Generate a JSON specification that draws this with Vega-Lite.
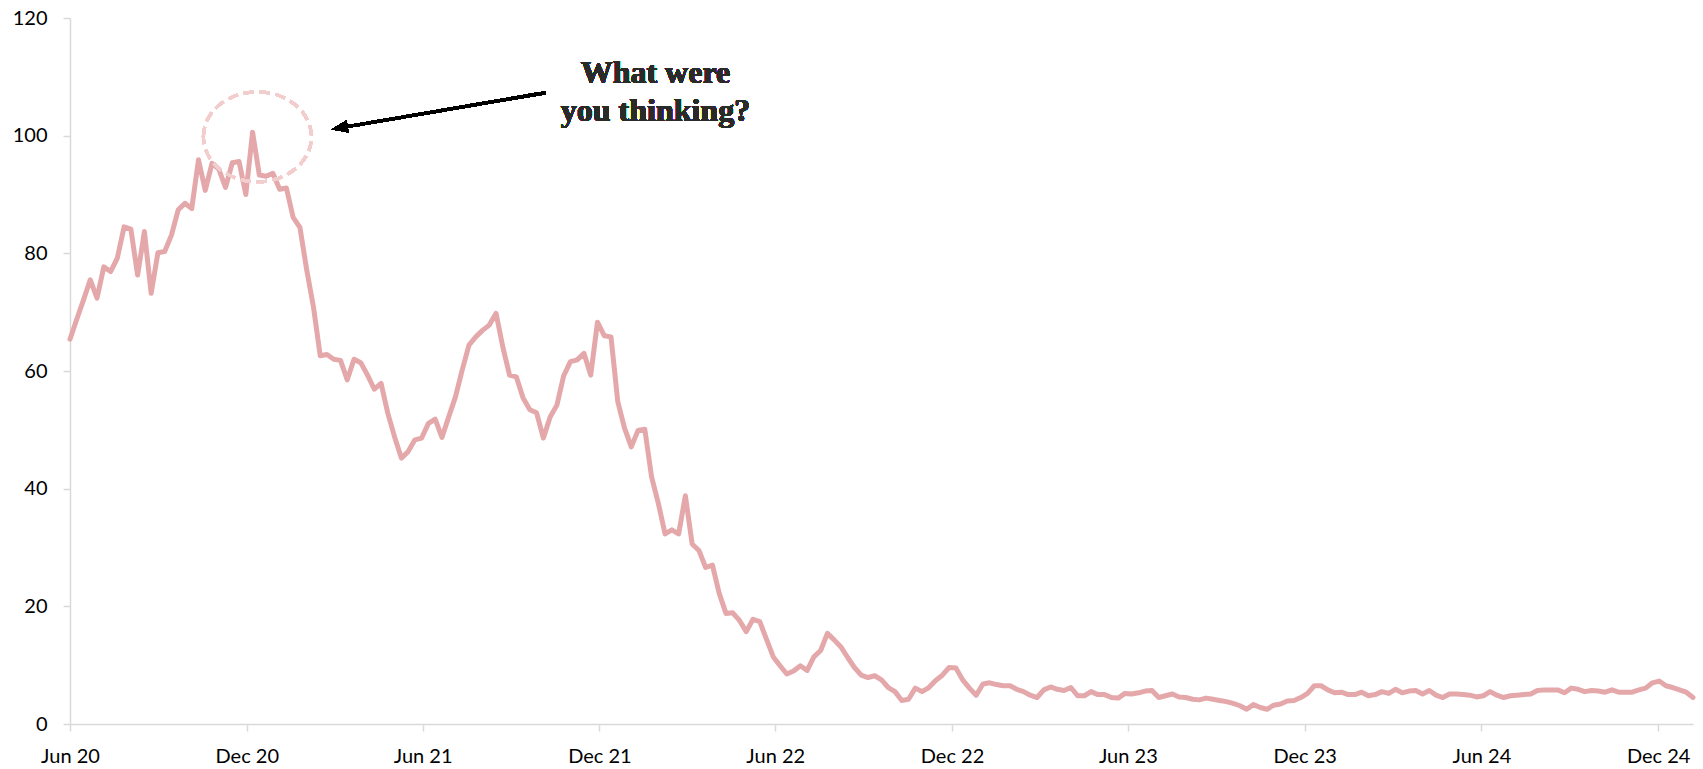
{
  "$schema": "https://vega.github.io/schema/vega-lite/v6.json",
  "width": 1623,
  "height": 706,
  "autosize": {"type": "none"},
  "padding": {"left": 70, "top": 18, "right": 10, "bottom": 45},
  "background": "white",
  "config": {
    "view": {"stroke": null},
    "axis": {
      "grid": false,
      "domainColor": "#d9d9d9",
      "domainWidth": 1.5,
      "tickColor": "#d9d9d9",
      "tickWidth": 1.5,
      "tickSize": 7,
      "labelFont": "Lato",
      "labelFontSize": 20,
      "labelColor": "#000000",
      "title": null
    }
  },
  "data": {
    "values": [
      {"d":"2020-06-01","v":65.4},{"d":"2020-06-08","v":68.8},{"d":"2020-06-15","v":72.1},{"d":"2020-06-22","v":75.5},{"d":"2020-06-29","v":72.4},
      {"d":"2020-07-06","v":77.7},{"d":"2020-07-13","v":76.9},{"d":"2020-07-20","v":79.2},{"d":"2020-07-27","v":84.5},
      {"d":"2020-08-03","v":84.1},{"d":"2020-08-10","v":76.3},{"d":"2020-08-17","v":83.7},{"d":"2020-08-24","v":73.2},{"d":"2020-08-31","v":80.1},
      {"d":"2020-09-07","v":80.3},{"d":"2020-09-14","v":83.1},{"d":"2020-09-21","v":87.4},{"d":"2020-09-28","v":88.5},
      {"d":"2020-10-05","v":87.6},{"d":"2020-10-12","v":95.9},{"d":"2020-10-19","v":90.7},{"d":"2020-10-26","v":95.3},
      {"d":"2020-11-02","v":94.3},{"d":"2020-11-09","v":91.2},{"d":"2020-11-16","v":95.4},{"d":"2020-11-23","v":95.6},{"d":"2020-11-30","v":90.0},
      {"d":"2020-12-07","v":100.6},{"d":"2020-12-14","v":93.3},{"d":"2020-12-21","v":93.1},{"d":"2020-12-28","v":93.6},
      {"d":"2021-01-04","v":90.9},{"d":"2021-01-11","v":91.1},{"d":"2021-01-18","v":86.1},{"d":"2021-01-25","v":84.4},
      {"d":"2021-02-01","v":77.2},{"d":"2021-02-08","v":70.9},{"d":"2021-02-15","v":62.6},{"d":"2021-02-22","v":62.8},
      {"d":"2021-03-01","v":62.0},{"d":"2021-03-08","v":61.8},{"d":"2021-03-15","v":58.5},{"d":"2021-03-22","v":62.0},{"d":"2021-03-29","v":61.4},
      {"d":"2021-04-05","v":59.3},{"d":"2021-04-12","v":56.9},{"d":"2021-04-19","v":57.9},{"d":"2021-04-26","v":52.8},
      {"d":"2021-05-03","v":48.8},{"d":"2021-05-10","v":45.2},{"d":"2021-05-17","v":46.3},{"d":"2021-05-24","v":48.3},{"d":"2021-05-31","v":48.6},
      {"d":"2021-06-07","v":51.1},{"d":"2021-06-14","v":51.8},{"d":"2021-06-21","v":48.7},{"d":"2021-06-28","v":52.2},
      {"d":"2021-07-05","v":55.6},{"d":"2021-07-12","v":60.2},{"d":"2021-07-19","v":64.4},{"d":"2021-07-26","v":65.8},
      {"d":"2021-08-02","v":66.9},{"d":"2021-08-09","v":67.8},{"d":"2021-08-16","v":69.8},{"d":"2021-08-23","v":64.1},{"d":"2021-08-30","v":59.3},
      {"d":"2021-09-06","v":59.0},{"d":"2021-09-13","v":55.4},{"d":"2021-09-20","v":53.4},{"d":"2021-09-27","v":52.9},
      {"d":"2021-10-04","v":48.6},{"d":"2021-10-11","v":52.2},{"d":"2021-10-18","v":54.2},{"d":"2021-10-25","v":59.2},
      {"d":"2021-11-01","v":61.6},{"d":"2021-11-08","v":61.9},{"d":"2021-11-15","v":63.0},{"d":"2021-11-22","v":59.3},{"d":"2021-11-29","v":68.3},
      {"d":"2021-12-06","v":66.0},{"d":"2021-12-13","v":65.8},{"d":"2021-12-20","v":54.8},{"d":"2021-12-27","v":50.3},
      {"d":"2022-01-03","v":47.1},{"d":"2022-01-10","v":49.9},{"d":"2022-01-17","v":50.1},{"d":"2022-01-24","v":42.0},{"d":"2022-01-31","v":37.5},
      {"d":"2022-02-07","v":32.3},{"d":"2022-02-14","v":33.0},{"d":"2022-02-21","v":32.3},{"d":"2022-02-28","v":38.8},
      {"d":"2022-03-07","v":30.6},{"d":"2022-03-14","v":29.5},{"d":"2022-03-21","v":26.6},{"d":"2022-03-28","v":27.0},
      {"d":"2022-04-04","v":22.2},{"d":"2022-04-11","v":18.8},{"d":"2022-04-18","v":18.9},{"d":"2022-04-25","v":17.6},
      {"d":"2022-05-02","v":15.7},{"d":"2022-05-09","v":17.8},{"d":"2022-05-16","v":17.4},{"d":"2022-05-23","v":14.4},{"d":"2022-05-30","v":11.4},
      {"d":"2022-06-06","v":9.9},{"d":"2022-06-13","v":8.5},{"d":"2022-06-20","v":9.0},{"d":"2022-06-27","v":9.9},
      {"d":"2022-07-04","v":9.1},{"d":"2022-07-11","v":11.4},{"d":"2022-07-18","v":12.5},{"d":"2022-07-25","v":15.4},
      {"d":"2022-08-01","v":14.3},{"d":"2022-08-08","v":13.1},{"d":"2022-08-15","v":11.3},{"d":"2022-08-22","v":9.6},{"d":"2022-08-29","v":8.3},
      {"d":"2022-09-05","v":7.9},{"d":"2022-09-12","v":8.2},{"d":"2022-09-19","v":7.5},{"d":"2022-09-26","v":6.2},
      {"d":"2022-10-03","v":5.5},{"d":"2022-10-10","v":4.0},{"d":"2022-10-17","v":4.2},{"d":"2022-10-24","v":6.1},{"d":"2022-10-31","v":5.5},
      {"d":"2022-11-07","v":6.2},{"d":"2022-11-14","v":7.4},{"d":"2022-11-21","v":8.3},{"d":"2022-11-28","v":9.6},
      {"d":"2022-12-05","v":9.5},{"d":"2022-12-12","v":7.5},{"d":"2022-12-19","v":6.1},{"d":"2022-12-26","v":4.9},
      {"d":"2023-01-02","v":6.8},{"d":"2023-01-09","v":7.0},{"d":"2023-01-16","v":6.7},{"d":"2023-01-23","v":6.5},{"d":"2023-01-30","v":6.5},
      {"d":"2023-02-06","v":5.9},{"d":"2023-02-13","v":5.5},{"d":"2023-02-20","v":4.9},{"d":"2023-02-27","v":4.5},
      {"d":"2023-03-06","v":5.8},{"d":"2023-03-13","v":6.3},{"d":"2023-03-20","v":5.9},{"d":"2023-03-27","v":5.7},
      {"d":"2023-04-03","v":6.2},{"d":"2023-04-10","v":4.8},{"d":"2023-04-17","v":4.8},{"d":"2023-04-24","v":5.5},
      {"d":"2023-05-01","v":5.0},{"d":"2023-05-08","v":5.0},{"d":"2023-05-15","v":4.5},{"d":"2023-05-22","v":4.4},{"d":"2023-05-29","v":5.2},
      {"d":"2023-06-05","v":5.1},{"d":"2023-06-12","v":5.3},{"d":"2023-06-19","v":5.6},{"d":"2023-06-26","v":5.7},
      {"d":"2023-07-03","v":4.5},{"d":"2023-07-10","v":4.8},{"d":"2023-07-17","v":5.1},{"d":"2023-07-24","v":4.6},{"d":"2023-07-31","v":4.5},
      {"d":"2023-08-07","v":4.2},{"d":"2023-08-14","v":4.1},{"d":"2023-08-21","v":4.4},{"d":"2023-08-28","v":4.2},
      {"d":"2023-09-04","v":4.0},{"d":"2023-09-11","v":3.8},{"d":"2023-09-18","v":3.5},{"d":"2023-09-25","v":3.1},
      {"d":"2023-10-02","v":2.5},{"d":"2023-10-09","v":3.3},{"d":"2023-10-16","v":2.8},{"d":"2023-10-23","v":2.5},{"d":"2023-10-30","v":3.2},
      {"d":"2023-11-06","v":3.4},{"d":"2023-11-13","v":3.9},{"d":"2023-11-20","v":4.0},{"d":"2023-11-27","v":4.5},
      {"d":"2023-12-04","v":5.2},{"d":"2023-12-11","v":6.5},{"d":"2023-12-18","v":6.5},{"d":"2023-12-25","v":5.8},
      {"d":"2024-01-01","v":5.3},{"d":"2024-01-08","v":5.4},{"d":"2024-01-15","v":5.0},{"d":"2024-01-22","v":5.0},{"d":"2024-01-29","v":5.4},
      {"d":"2024-02-05","v":4.8},{"d":"2024-02-12","v":5.0},{"d":"2024-02-19","v":5.5},{"d":"2024-02-26","v":5.2},
      {"d":"2024-03-04","v":5.9},{"d":"2024-03-11","v":5.3},{"d":"2024-03-18","v":5.6},{"d":"2024-03-25","v":5.7},
      {"d":"2024-04-01","v":5.1},{"d":"2024-04-08","v":5.7},{"d":"2024-04-15","v":4.9},{"d":"2024-04-22","v":4.5},{"d":"2024-04-29","v":5.1},
      {"d":"2024-05-06","v":5.1},{"d":"2024-05-13","v":5.0},{"d":"2024-05-20","v":4.9},{"d":"2024-05-27","v":4.6},
      {"d":"2024-06-03","v":4.8},{"d":"2024-06-10","v":5.5},{"d":"2024-06-17","v":4.9},{"d":"2024-06-24","v":4.5},
      {"d":"2024-07-01","v":4.8},{"d":"2024-07-08","v":4.9},{"d":"2024-07-15","v":5.0},{"d":"2024-07-22","v":5.1},{"d":"2024-07-29","v":5.7},
      {"d":"2024-08-05","v":5.8},{"d":"2024-08-12","v":5.8},{"d":"2024-08-19","v":5.8},{"d":"2024-08-26","v":5.3},
      {"d":"2024-09-02","v":6.1},{"d":"2024-09-09","v":5.9},{"d":"2024-09-16","v":5.5},{"d":"2024-09-23","v":5.7},{"d":"2024-09-30","v":5.6},
      {"d":"2024-10-07","v":5.4},{"d":"2024-10-14","v":5.8},{"d":"2024-10-21","v":5.4},{"d":"2024-10-28","v":5.4},
      {"d":"2024-11-04","v":5.4},{"d":"2024-11-11","v":5.8},{"d":"2024-11-18","v":6.1},{"d":"2024-11-25","v":7.0},
      {"d":"2024-12-02","v":7.3},{"d":"2024-12-09","v":6.5},{"d":"2024-12-16","v":6.2},{"d":"2024-12-23","v":5.8},{"d":"2024-12-30","v":5.4},
      {"d":"2025-01-06","v":4.5}
    ]
  },
  "encoding": {
    "x": {
      "field": "d",
      "type": "temporal",
      "scale": {
        "type": "utc",
        "domain": [
          {"year": 2020, "month": 6, "date": 1, "utc": true},
          {"year": 2025, "month": 1, "date": 6, "utc": true}
        ]
      },
      "axis": {
        "format": "%b %y",
        "labelPadding": 15,
        "labelFlush": false,
        "labelOverlap": false,
        "labelBound": false,
        "values": [
          {"year": 2020, "month": 6, "date": 1, "utc": true},
          {"year": 2020, "month": 12, "date": 1, "utc": true},
          {"year": 2021, "month": 6, "date": 1, "utc": true},
          {"year": 2021, "month": 12, "date": 1, "utc": true},
          {"year": 2022, "month": 6, "date": 1, "utc": true},
          {"year": 2022, "month": 12, "date": 1, "utc": true},
          {"year": 2023, "month": 6, "date": 1, "utc": true},
          {"year": 2023, "month": 12, "date": 1, "utc": true},
          {"year": 2024, "month": 6, "date": 1, "utc": true},
          {"year": 2024, "month": 12, "date": 1, "utc": true}
        ]
      }
    },
    "y": {
      "field": "v",
      "type": "quantitative",
      "scale": {"domain": [0, 120], "nice": false},
      "axis": {"values": [0, 20, 40, 60, 80, 100, 120], "labelPadding": 16}
    }
  },
  "layer": [
    {
      "mark": {
        "type": "line",
        "color": "#e4a8ab",
        "strokeWidth": 5,
        "strokeJoin": "round",
        "strokeCap": "round"
      }
    },
    {
      "mark": {
        "type": "point",
        "shape": "M-1,0 A1,0.833 0 1,1 1,0 A1,0.833 0 1,1 -1,0 Z",
        "size": 11664,
        "filled": false,
        "stroke": "#f2cdce",
        "strokeWidth": 3,
        "strokeDash": [10, 6],
        "opacity": 1
      },
      "encoding": {
        "x": {"datum": {"year": 2020, "month": 12, "date": 12, "utc": true}, "type": "temporal"},
        "y": {"datum": 99.8, "type": "quantitative"}
      }
    },
    {
      "mark": {"type": "rule", "color": "#000000", "strokeWidth": 3},
      "encoding": {
        "x": {"datum": {"year": 2021, "month": 3, "date": 3, "utc": true}, "type": "temporal"},
        "y": {"datum": 101.2, "type": "quantitative"},
        "x2": {"datum": {"year": 2021, "month": 10, "date": 6, "utc": true}},
        "y2": {"datum": 107.3}
      }
    },
    {
      "mark": {
        "type": "point",
        "shape": "M0,0 L2,-0.75 L2,0.75 Z",
        "size": 256,
        "filled": true,
        "color": "#000000",
        "opacity": 1,
        "angle": -9.6
      },
      "encoding": {
        "x": {"datum": {"year": 2021, "month": 2, "date": 27, "utc": true}, "type": "temporal"},
        "y": {"datum": 101.1, "type": "quantitative"}
      }
    },
    {
      "mark": {
        "type": "text",
        "text": "What were\nyou thinking?",
        "lineBreak": "\n",
        "lineHeight": 38,
        "font": "Liberation Serif",
        "fontWeight": "bold",
        "fontSize": 32,
        "color": "#2a2a28",
        "align": "center",
        "baseline": "alphabetic"
      },
      "encoding": {
        "x": {"datum": {"year": 2022, "month": 1, "date": 28, "utc": true}, "type": "temporal"},
        "y": {"datum": 109.0, "type": "quantitative"}
      }
    }
  ]
}
